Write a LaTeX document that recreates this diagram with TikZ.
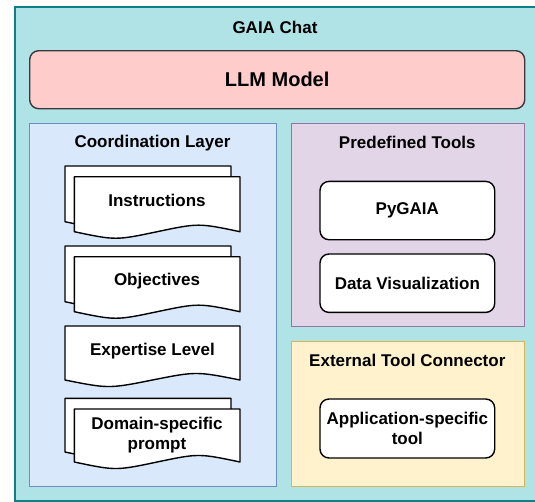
\documentclass[tikz,border=0pt]{standalone}
\usepackage{fontspec}
\setmainfont{Liberation Sans}
\definecolor{outerF}{HTML}{B0E3E6}
\definecolor{outerS}{HTML}{0E8088}
\definecolor{llmF}{HTML}{FFCCCC}
\definecolor{llmS}{HTML}{36393D}
\definecolor{coordF}{HTML}{DAE8FC}
\definecolor{coordS}{HTML}{6C8EBF}
\definecolor{predF}{HTML}{E1D5E7}
\definecolor{predS}{HTML}{9673A6}
\definecolor{extF}{HTML}{FFF2CC}
\definecolor{extS}{HTML}{D6B656}
\newcommand\drawdoc[4]{%
  \draw[docsty] (#1,#2) -- (#3,#2) -- (#3,#4)
    .. controls ({#3-(#3-#1)/4},{#4-8.7}) .. ({(#1+#3)/2},#4)
    .. controls ({#1+(#3-#1)/4},{#4+8.7}) .. (#1,#4) -- cycle;}
\begin{document}
\begin{tikzpicture}[x=1pt,y=-1pt,
  lbl/.style={font=\bfseries\fontsize{17}{20}\selectfont, inner sep=0pt, align=center},
  box/.style={anchor=north west, inner sep=0pt, line width=1.4pt},
  outerbox/.style={box, draw=outerS, fill=outerF, line width=2pt},
  llmbox/.style={box, draw=llmS, fill=llmF, rounded corners=9pt},
  coordbox/.style={box, draw=coordS, fill=coordF},
  predbox/.style={box, draw=predS, fill=predF},
  extbox/.style={box, draw=extS, fill=extF},
  toolbox/.style={box, draw=black, fill=white, rounded corners=9pt},
  docsty/.style={draw=black, fill=white, line width=1.4pt, line join=round}]
\useasboundingbox (0,0) rectangle (535,501);
\clip (0,0) rectangle (535,501);
% outer container
\node[outerbox, minimum width=526pt, minimum height=493.5pt] (gaia) at (14,6) {};
\node[lbl, anchor=base] (gaiat) at (275,33) {GAIA Chat};
% LLM
\node[llmbox, minimum width=495pt, minimum height=58pt] (llm) at (29,50) {};
\node[lbl, font=\bfseries\fontsize{20}{24}\selectfont] (llmt) at (llm.center) {LLM Model};
% groups
\node[coordbox, minimum width=247pt, minimum height=363pt] (coord) at (29,123) {};
\node[lbl, anchor=base] (coordt) at (152.5,147.5) {Coordination Layer};
\node[predbox, minimum width=233.3pt, minimum height=202.7pt] (pred) at (290.7,123) {};
\node[lbl, anchor=base] (predt) at (407.3,148) {Predefined Tools};
\node[extbox, minimum width=233.3pt, minimum height=145.3pt] (ext) at (290.7,340.7) {};
\node[lbl, anchor=base] (extt) at (407.3,366) {External Tool Connector};
% tools
\node[toolbox, minimum width=174.7pt, minimum height=58.3pt] (pyg) at (319.3,180.7) {};
\node[lbl] (pygt) at (pyg.center) {PyGAIA};
\node[toolbox, minimum width=174.7pt, minimum height=58.4pt] (dv) at (319.3,253.3) {};
\node[lbl] (dvt) at (dv.center) {Data Visualization};
\node[toolbox, minimum width=174.7pt, minimum height=59pt] (app) at (319.3,398.3) {};
\node[lbl] (appt) at (app.center) {Application-specific\\tool};
% documents
\drawdoc{65}{166}{231}{221.7}
\drawdoc{74.3}{176.7}{240}{231.7}
\node[lbl, anchor=base] (instr) at (157,206.7) {Instructions};
\drawdoc{65}{246}{231}{301.7}
\drawdoc{74.3}{256.7}{240}{311.7}
\node[lbl, anchor=base] (obj) at (157,285.5) {Objectives};
\drawdoc{65}{326}{240}{380}
\node[lbl, anchor=base] (exp) at (152.5,355) {Expertise Level};
\drawdoc{65}{398.3}{231}{452}
\drawdoc{74.3}{409}{240}{462}
\node[lbl] (dom) at (157,434.6) {Domain-specific\\prompt};
\end{tikzpicture}
\end{document}
